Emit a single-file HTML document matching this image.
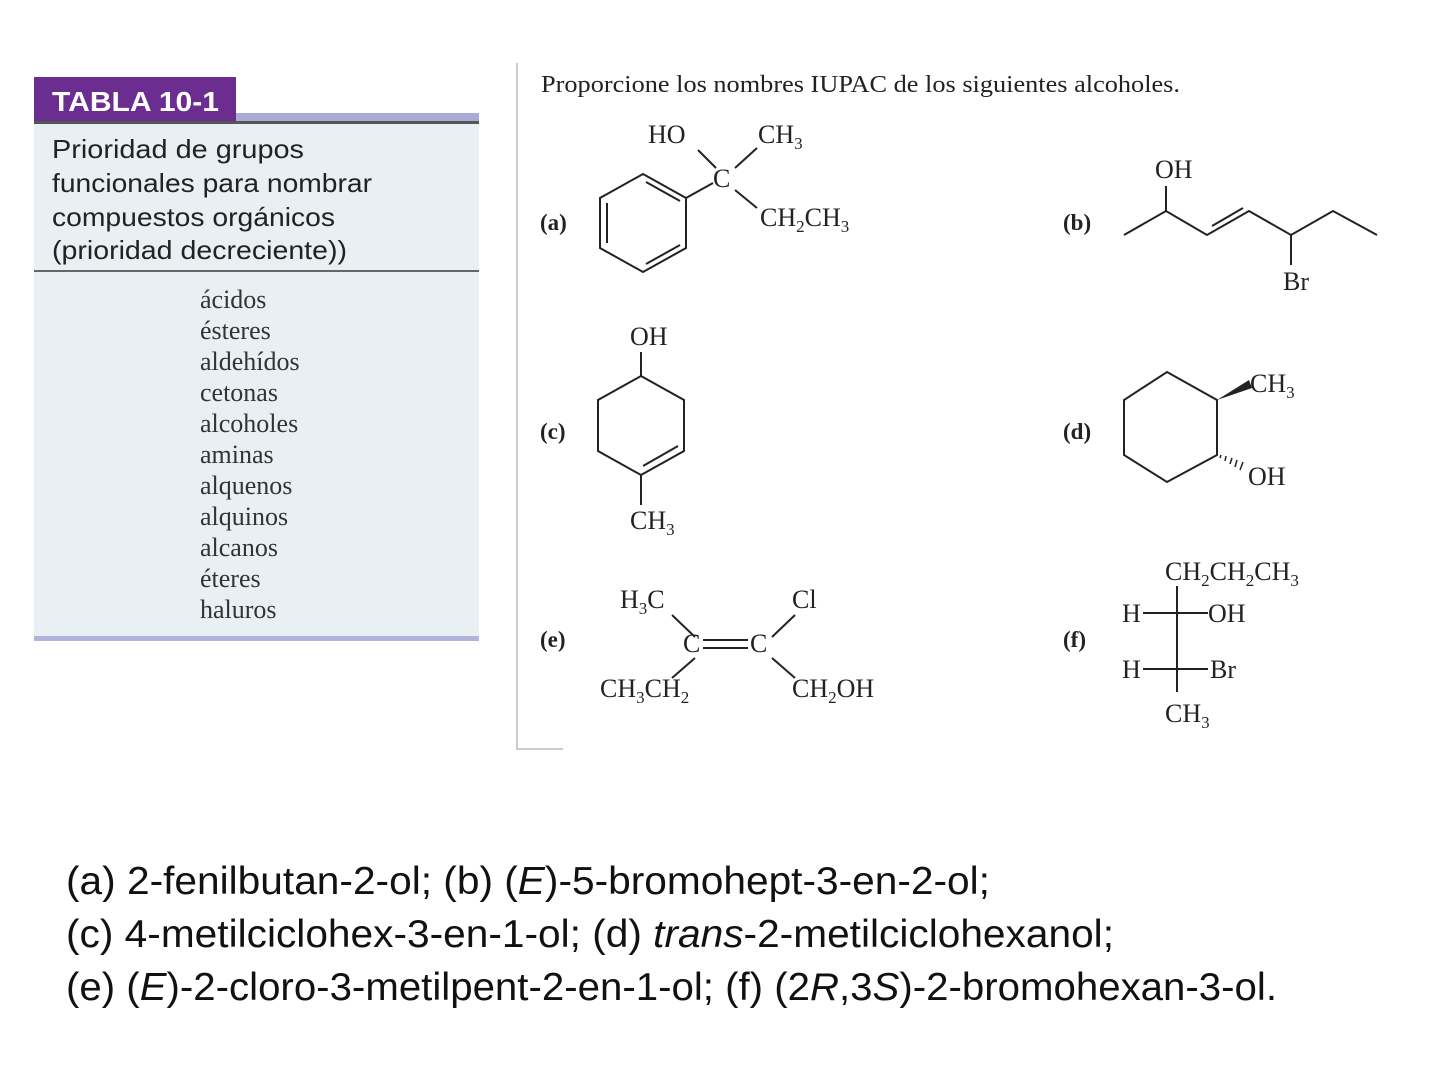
<!DOCTYPE html>
<html><head><meta charset="utf-8"><style>body{margin:0;background:#fff}svg{display:block}</style></head><body>
<svg width="1440" height="1080" viewBox="0 0 1440 1080" xmlns="http://www.w3.org/2000/svg">
<rect width="1440" height="1080" fill="#fff"/>
<!-- Table -->
<rect x="34" y="122" width="445" height="516" fill="#e9f0f4"/>
<rect x="34" y="77" width="202" height="45" fill="#6b2d8f"/>
<rect x="236" y="113" width="243" height="9" fill="#a7abd6"/>
<rect x="34" y="121" width="445" height="3" fill="#555"/>
<rect x="34" y="270" width="445" height="2" fill="#666"/>
<rect x="34" y="636" width="445" height="5" fill="#b0b3dc"/>
<g font-family="Liberation Sans, sans-serif" font-weight="bold" fill="#fff" font-size="28"><text x="52" y="111" textLength="167" lengthAdjust="spacingAndGlyphs">TABLA 10-1</text></g>
<g font-family="Liberation Sans, sans-serif" fill="#222" font-size="26">
<text x="52" y="158" textLength="252" lengthAdjust="spacingAndGlyphs">Prioridad de grupos</text>
<text x="52" y="192" textLength="320" lengthAdjust="spacingAndGlyphs">funcionales para nombrar</text>
<text x="52" y="226" textLength="283" lengthAdjust="spacingAndGlyphs">compuestos orgánicos</text>
<text x="52" y="259" textLength="295" lengthAdjust="spacingAndGlyphs">(prioridad decreciente))</text>
</g>
<g font-family="Liberation Serif, serif" fill="#333" font-size="26">
<text x="200" y="308">ácidos</text><text x="200" y="339">ésteres</text><text x="200" y="370">aldehídos</text>
<text x="200" y="401">cetonas</text><text x="200" y="432">alcoholes</text><text x="200" y="463">aminas</text>
<text x="200" y="494">alquenos</text><text x="200" y="525">alquinos</text><text x="200" y="556">alcanos</text>
<text x="200" y="587">éteres</text><text x="200" y="618">haluros</text>
</g>
<!-- right panel frame -->
<path d="M517 63 V749 H563" stroke="#ccc" stroke-width="2" fill="none"/>
<g font-family="Liberation Serif, serif" fill="#222" font-size="26">
<text x="541" y="92" font-size="24" textLength="639" lengthAdjust="spacingAndGlyphs">Proporcione los nombres IUPAC de los siguientes alcoholes.</text>
<g font-weight="bold" font-size="23">
<text x="540" y="230">(a)</text><text x="1063" y="230">(b)</text>
<text x="540" y="439">(c)</text><text x="1063" y="439">(d)</text>
<text x="540" y="647">(e)</text><text x="1063" y="647">(f)</text>
</g>
<!-- a -->
<text x="648" y="143">HO</text>
<text x="758" y="143">CH<tspan dy="6" font-size="17">3</tspan></text>
<text x="713" y="187">C</text>
<text x="760" y="226">CH<tspan dy="6" font-size="17">2</tspan><tspan dy="-6">CH</tspan><tspan dy="6" font-size="17">3</tspan></text>
<!-- b -->
<text x="1155" y="178">OH</text>
<text x="1283" y="290">Br</text>
<!-- c -->
<text x="630" y="345">OH</text>
<text x="630" y="529">CH<tspan dy="6" font-size="17">3</tspan></text>
<!-- d -->
<text x="1250" y="392">CH<tspan dy="6" font-size="17">3</tspan></text>
<text x="1248" y="485">OH</text>
<!-- e -->
<text x="620" y="608">H<tspan dy="6" font-size="17">3</tspan><tspan dy="-6">C</tspan></text>
<text x="792" y="608">Cl</text>
<text x="683" y="652">C</text><text x="750" y="652">C</text>
<text x="600" y="697">CH<tspan dy="6" font-size="17">3</tspan><tspan dy="-6">CH</tspan><tspan dy="6" font-size="17">2</tspan></text>
<text x="792" y="697">CH<tspan dy="6" font-size="17">2</tspan><tspan dy="-6">OH</tspan></text>
<!-- f -->
<text x="1165" y="580">CH<tspan dy="6" font-size="17">2</tspan><tspan dy="-6">CH</tspan><tspan dy="6" font-size="17">2</tspan><tspan dy="-6">CH</tspan><tspan dy="6" font-size="17">3</tspan></text>
<text x="1122" y="622">H</text><text x="1208" y="622">OH</text>
<text x="1122" y="678">H</text><text x="1210" y="678">Br</text>
<text x="1165" y="722">CH<tspan dy="6" font-size="17">3</tspan></text>
</g>
<g stroke="#222" stroke-width="2" fill="none">
<line x1="703" y1="640" x2="748" y2="640"/>
<line x1="703" y1="648" x2="748" y2="648"/>
<!-- a -->
<polygon points="643,174 686,198 686,248 643,272 600,248 600,198"/>
<line x1="646" y1="182" x2="680" y2="201"/>
<line x1="607" y1="203" x2="607" y2="243"/>
<line x1="646" y1="264" x2="680" y2="245"/>
<line x1="686" y1="198" x2="713" y2="183"/>
<line x1="698" y1="150" x2="716" y2="168"/>
<line x1="757" y1="148" x2="735" y2="168"/>
<line x1="735" y1="190" x2="757" y2="208"/>
<!-- b -->
<polyline points="1124,235 1166,211 1207,235 1249,211 1291,235 1333,211 1377,235"/>
<line x1="1212" y1="226" x2="1243" y2="208"/>
<line x1="1166" y1="211" x2="1166" y2="186"/>
<line x1="1291" y1="235" x2="1291" y2="265"/>
<!-- c -->
<polygon points="641,376 684,400 684,451 641,475 598,451 598,400"/>
<line x1="643" y1="466" x2="678" y2="446"/>
<line x1="641" y1="376" x2="641" y2="352"/>
<line x1="641" y1="475" x2="641" y2="505"/>
<!-- d -->
<polygon points="1167,372 1217,400 1217,455 1167,482 1124,455 1124,400"/>
<!-- e -->
<line x1="672" y1="615" x2="695" y2="637"/>
<line x1="795" y1="615" x2="772" y2="637"/>
<line x1="695" y1="658" x2="672" y2="678"/>
<line x1="772" y1="658" x2="795" y2="678"/>
<!-- f -->
<line x1="1177" y1="586" x2="1177" y2="692"/>
<line x1="1143" y1="613" x2="1208" y2="613"/>
<line x1="1143" y1="669" x2="1208" y2="669"/>
</g>
<polygon points="1217,400 1249,380 1252,388" fill="#222"/>
<g stroke="#222" stroke-width="1.5">
<line x1="1220" y1="458" x2="1221" y2="455"/><line x1="1225" y1="461" x2="1226" y2="456"/>
<line x1="1230" y1="464" x2="1232" y2="458"/><line x1="1235" y1="467" x2="1237" y2="460"/>
<line x1="1240" y1="470" x2="1243" y2="462"/>
</g>
<!-- answers -->
<g font-family="Liberation Sans, sans-serif" fill="#111" font-size="39">
<text x="66" y="894" textLength="924" lengthAdjust="spacingAndGlyphs">(a) 2-fenilbutan-2-ol; (b) (<tspan font-style="italic">E</tspan>)-5-bromohept-3-en-2-ol;</text>
<text x="66" y="947" textLength="1048" lengthAdjust="spacingAndGlyphs">(c) 4-metilciclohex-3-en-1-ol; (d) <tspan font-style="italic">trans</tspan>-2-metilciclohexanol;</text>
<text x="66" y="1000" textLength="1211" lengthAdjust="spacingAndGlyphs">(e) (<tspan font-style="italic">E</tspan>)-2-cloro-3-metilpent-2-en-1-ol; (f) (2<tspan font-style="italic">R</tspan>,3<tspan font-style="italic">S</tspan>)-2-bromohexan-3-ol.</text>
</g>
</svg>
</body></html>
